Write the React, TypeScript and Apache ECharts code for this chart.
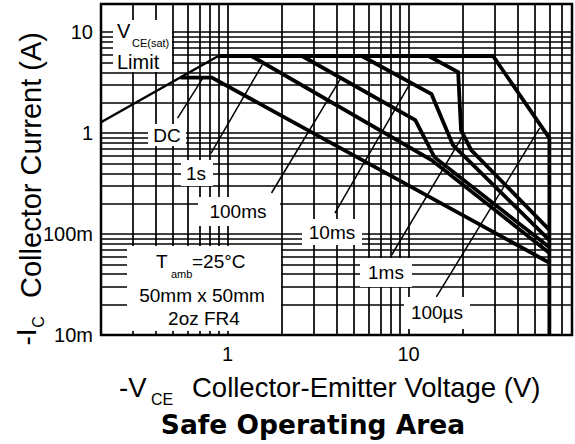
import React, { useEffect, useRef } from 'react';
import * as echarts from 'echarts';

// ---- axis structure ----
const X_MIN = 0.2;
const X_MAX = 80;
const Y_MIN = 0.01;
const Y_MAX = 19;
const X_TICKS = [1, 10];
const X_TICK_TEXT = ['1', '10'];
const Y_TICKS = [0.01, 0.1, 1, 10];
const Y_TICK_TEXT = ['10m', '100m', '1', '10'];
const X_GRID = [0.3, 0.4, 0.5, 0.6, 0.7, 0.8, 0.9, 1, 2, 3, 4, 5, 6, 7, 8, 9, 10, 20, 30, 40, 50, 60, 70];
const Y_GRID = [0.02, 0.03, 0.04, 0.05, 0.06, 0.07, 0.08, 0.09, 0.1, 0.2, 0.3, 0.4, 0.5, 0.6, 0.7, 0.8, 0.9, 1, 2, 3, 4, 5, 6, 7, 8, 9, 10];

// ---- curves (V, A) ----
const LIMIT_V = [0.2, 0.89];
const LIMIT_I = [1.28, 5.8];
const DC_V = [0.55, 0.82, 60];
const DC_I = [3.55, 3.55, 0.052];
const S1_V = [0.89, 1.355, 13.4, 60];
const S1_I = [5.8, 5.8, 0.54, 0.065];
const MS100_V = [0.89, 2.58, 10.9, 13.9, 60];
const MS100_I = [5.8, 5.8, 1.345, 0.578, 0.074];
const MS10_V = [0.89, 5.52, 13.4, 17.6, 60];
const MS10_I = [5.8, 5.8, 2.43, 0.76, 0.087];
const MS1_V = [0.89, 12.9, 18.8, 19.5, 22.2, 60];
const MS1_I = [5.8, 5.8, 4.02, 1.07, 0.68, 0.11];
const US100_V = [0.89, 29.3, 60, 60];
const US100_I = [5.8, 5.8, 0.89, 0.01];

// ---- pointer lines (V, A) ----
const PTR_DC = [[0.53, 1.41], [0.73, 3.5]];
const PTR_1S = [[0.81, 0.63], [1.56, 4.8]];
const PTR_100MS = [[1.75, 0.255], [4.23, 3.5]];
const PTR_10MS = [[3.92, 0.161], [10.2, 3.1]];
const PTR_1MS = [[8.07, 0.062], [20.0, 0.95]];
const PTR_100US = [[14.25, 0.0238], [53, 1.12]];

const FONT = "'Liberation Sans', Arial, sans-serif";
const TITLE_FONT = "'DejaVu Sans', 'Liberation Sans', sans-serif";

function zip(a: number[], b: number[]) {
  return a.map((v, i) => [v, b[i]]);
}

function tickFormatter(ticks: number[], texts: string[]) {
  return (v: number) => {
    for (let i = 0; i < ticks.length; i++) {
      if (Math.abs(Math.log10(v) - Math.log10(ticks[i])) < 1e-6) return texts[i];
    }
    return '';
  };
}

function curve(name: string, data: number[][], width: number) {
  return {
    name,
    type: 'line',
    data,
    showSymbol: false,
    symbol: 'none',
    silent: true,
    z: 3,
    lineStyle: { color: '#000', width, cap: 'butt', join: 'miter' },
  };
}

function box(x: number, y: number, w: number, h: number) {
  return { type: 'rect', z: 2, silent: true, shape: { x, y, width: w, height: h }, style: { fill: '#fff' } };
}

function txt(text: string, x: number, y: number, size: number, align = 'center', extra: any = {}) {
  const { weight, family, ...rest } = extra;
  return {
    type: 'text',
    z: 4,
    x,
    y,
    silent: true,
    ...rest,
    style: {
      text,
      fill: '#000',
      font: `${weight || 'normal'} ${size}px ${family || FONT}`,
      textAlign: align,
      align,
      textVerticalAlign: 'middle',
      verticalAlign: 'middle',
    },
  };
}

export default function App() {
  const ref = useRef<HTMLDivElement>(null);
  useEffect(() => {
    const chart = echarts.init(ref.current!, null, { renderer: 'svg' });
    const option: any = {
      animation: false,
      backgroundColor: '#fff',
      grid: { left: 101, top: 4, width: 473, height: 331, show: true, borderColor: '#000', borderWidth: 2.5, backgroundColor: 'transparent' },
      xAxis: {
        type: 'log',
        logBase: 10,
        min: X_MIN,
        max: X_MAX,
        axisLine: { show: false },
        axisTick: { show: false },
        splitLine: { show: false },
        axisLabel: { formatter: tickFormatter(X_TICKS, X_TICK_TEXT), fontSize: 20, color: '#000', fontFamily: FONT, margin: 9, showMinLabel: true, showMaxLabel: true },
      },
      yAxis: {
        type: 'log',
        logBase: 10,
        min: Y_MIN,
        max: Y_MAX,
        axisLine: { show: false },
        axisTick: { show: false },
        splitLine: { show: false },
        axisLabel: { formatter: tickFormatter(Y_TICKS, Y_TICK_TEXT), fontSize: 20, color: '#000', fontFamily: FONT, margin: 8 },
      },
      series: [
        {
          name: 'grid',
          type: 'line',
          data: [[1, 1]],
          showSymbol: false,
          symbol: 'none',
          lineStyle: { opacity: 0 },
          silent: true,
          z: 1,
          markLine: {
            z: 1,
            silent: true,
            animation: false,
            symbol: ['none', 'none'],
            label: { show: false },
            emphasis: { disabled: true },
            lineStyle: { color: '#000', width: 1.7, type: 'solid' },
            data: [...X_GRID.map((v) => ({ xAxis: v })), ...Y_GRID.map((v) => ({ yAxis: v }))],
          },
        },
        curve('limit', zip(LIMIT_V, LIMIT_I), 2.5),
        curve('DC', zip(DC_V, DC_I), 3.8),
        curve('1s', zip(S1_V, S1_I), 3.8),
        curve('100ms', zip(MS100_V, MS100_I), 3.8),
        curve('10ms', zip(MS10_V, MS10_I), 3.8),
        curve('1ms', zip(MS1_V, MS1_I), 3.8),
        curve('100us', zip(US100_V, US100_I), 3.8),
        curve('pDC', PTR_DC, 1.5),
        curve('p1s', PTR_1S, 1.5),
        curve('p100ms', PTR_100MS, 1.5),
        curve('p10ms', PTR_10MS, 1.5),
        curve('p1ms', PTR_1MS, 1.5),
        curve('p100us', PTR_100US, 1.5),
      ],
      graphic: {
        elements: [
          box(113, 20, 59, 52),
          box(148, 124, 38, 22),
          box(181, 160, 32, 26),
          box(198, 197, 82, 29),
          box(302, 219, 60, 26),
          box(360, 258, 52, 29),
          box(404, 297, 66, 32),
          box(127, 246, 154, 85),
          txt('V', 117, 31, 20, 'left'),
          txt('CE(sat)', 132, 43, 11, 'left'),
          txt('Limit', 117, 62, 20, 'left'),
          txt('DC', 167, 135, 19),
          txt('1s', 196, 173, 19),
          txt('100ms', 238, 211, 19),
          txt('10ms', 332, 232, 19),
          txt('1ms', 386, 272, 19),
          txt('100µs', 437, 312, 19),
          txt('T', 156, 261, 19, 'left'),
          txt('amb', 171, 274, 11, 'left'),
          txt('=25°C', 192, 261, 19, 'left'),
          txt('50mm x 50mm', 202, 295, 19),
          txt('2oz FR4', 204, 318, 19),
          txt('-V', 119, 387, 27.5, 'left'),
          txt('CE', 151, 399, 16, 'left'),
          txt('Collector-Emitter Voltage (V)', 192, 387, 27.5, 'left'),
          txt('Collector Current (A)', 31, 165, 29, 'center', { rotation: Math.PI / 2 }),
          txt('-I', 26, 337, 28, 'center', { rotation: Math.PI / 2 }),
          txt('C', 38, 322, 16, 'center', { rotation: Math.PI / 2 }),
          txt('Safe Operating Area', 313, 424, 26.5, 'center', { weight: 'bold', family: TITLE_FONT }),
        ],
      },
    };
    chart.setOption(option);
    return () => chart.dispose();
  }, []);
  return <div ref={ref} style={{ position: 'absolute', left: 0, top: 0, width: 575, height: 444, background: '#fff' }} />;
}
